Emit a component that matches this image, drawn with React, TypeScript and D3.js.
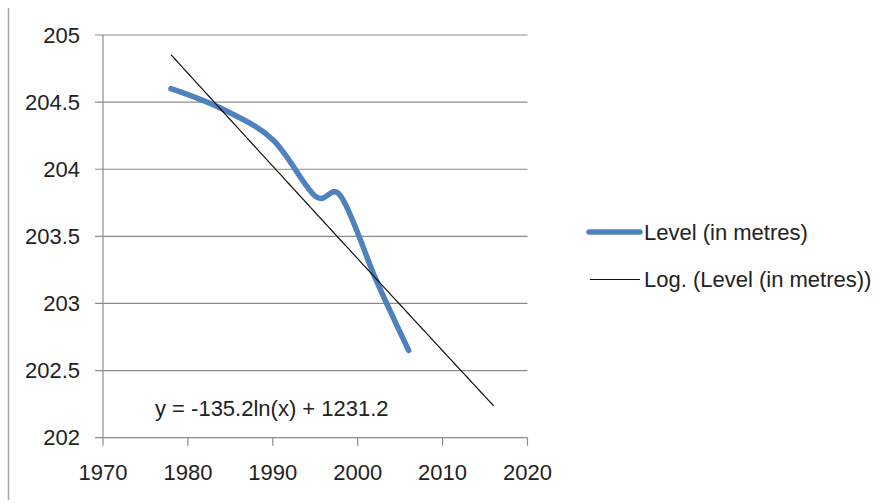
import * as d3 from 'd3';
import { type FC } from 'react';

// water level readings (year, metres)
const years = [1978, 1984, 1990, 1995, 1998, 2002, 2004, 2006];
const levels = [204.6, 204.45, 204.22, 203.8, 203.8, 203.2, 202.92, 202.65];

const xTicks = [1970, 1980, 1990, 2000, 2010, 2020];
const yTicks = [202, 202.5, 203, 203.5, 204, 204.5, 205];

const seriesName = 'Level (in metres)';
const trendName = 'Log. (Level (in metres))';
const trendForward = 10; // years the trendline is extended past the data
const equationLabel = 'y = -135.2ln(x) + 1231.2';

const W = 883;
const H = 503;
const margin = { top: 35, right: 355.5, bottom: 65.3, left: 103 };

const font = '"Liberation Sans", Arial, sans-serif';
const gridColor = '#8c8c8c';
const blue = '#4f81bd';

// least squares fit of y = a*ln(x) + b
const fitLog = (xs: number[], ys: number[]) => {
	const lx = xs.map((v) => Math.log(v));
	const mx = d3.mean(lx)!;
	const my = d3.mean(ys)!;
	const sxy = d3.sum(lx, (v, i) => (v - mx) * (ys[i] - my));
	const sxx = d3.sum(lx, (v) => (v - mx) ** 2);
	const a = sxy / sxx;
	return { a, b: my - a * mx };
};

const App: FC = () => {
	const x = d3
		.scaleLinear()
		.domain([1970, 2020])
		.range([margin.left, W - margin.right]);
	const y = d3
		.scaleLinear()
		.domain([202, 205])
		.range([H - margin.bottom, margin.top]);

	const pts = years.map((yr, i) => [yr, levels[i]] as [number, number]);
	const line = d3
		.line<[number, number]>()
		.x((d) => x(d[0]))
		.y((d) => y(d[1]))
		.curve(d3.curveCatmullRom.alpha(0));

	const { a, b } = fitLog(years, levels);
	const x0 = years[0];
	const x1 = years[years.length - 1] + trendForward;
	const trendPts = d3.range(x0, x1 + 0.01, 0.5).map((v) => [v, a * Math.log(v) + b] as [number, number]);
	const trendLine = d3
		.line<[number, number]>()
		.x((d) => x(d[0]))
		.y((d) => y(d[1]));

	const xl = x.range()[0];
	const xr = x.range()[1];
	const yb = y.range()[0];

	return (
		<svg width={W} height={H} style={{ position: 'absolute', left: 0, top: 0, background: '#fff' }}>
			{/* chart frame edge */}
			<line x1={8.5} x2={8.5} y1={8} y2={500} stroke="#a6a6a6" strokeWidth={1.5} />

			{/* grid */}
			{yTicks.map((t) => (
				<g key={t}>
					<line x1={xl - 8} x2={xr} y1={y(t)} y2={y(t)} stroke={gridColor} strokeWidth={1.2} />
					<text
						x={80}
						y={y(t)}
						dy="0.35em"
						textAnchor="end"
						fontFamily={font}
						fontSize={22}
						fill="#222"
					>
						{t}
					</text>
				</g>
			))}
			<line x1={xl} x2={xl} y1={y(205)} y2={yb} stroke={gridColor} strokeWidth={1.2} />
			{xTicks.map((t) => (
				<g key={t}>
					<line x1={x(t)} x2={x(t)} y1={yb} y2={yb + 8} stroke={gridColor} strokeWidth={1.2} />
					<text
						x={x(t)}
						y={480}
						textAnchor="middle"
						fontFamily={font}
						fontSize={22}
						fill="#222"
					>
						{t}
					</text>
				</g>
			))}

			{/* series */}
			<path d={line(pts)!} fill="none" stroke={blue} strokeWidth={5.5} strokeLinecap="round" />
			<path d={trendLine(trendPts)!} fill="none" stroke="#111" strokeWidth={1.2} />

			<text x={155} y={408} dy="0.35em" fontFamily={font} fontSize={22} fill="#222">
				{equationLabel}
			</text>

			{/* legend */}
			<line x1={589} x2={640} y1={232} y2={232} stroke={blue} strokeWidth={5.5} strokeLinecap="round" />
			<text x={644} y={232} dy="0.35em" fontFamily={font} fontSize={22} fill="#222">
				{seriesName}
			</text>
			<line x1={590} x2={640} y1={279.5} y2={279.5} stroke="#111" strokeWidth={1.2} />
			<text x={644} y={279.5} dy="0.35em" fontFamily={font} fontSize={22} fill="#222">
				{trendName}
			</text>
		</svg>
	);
};

export default App;
